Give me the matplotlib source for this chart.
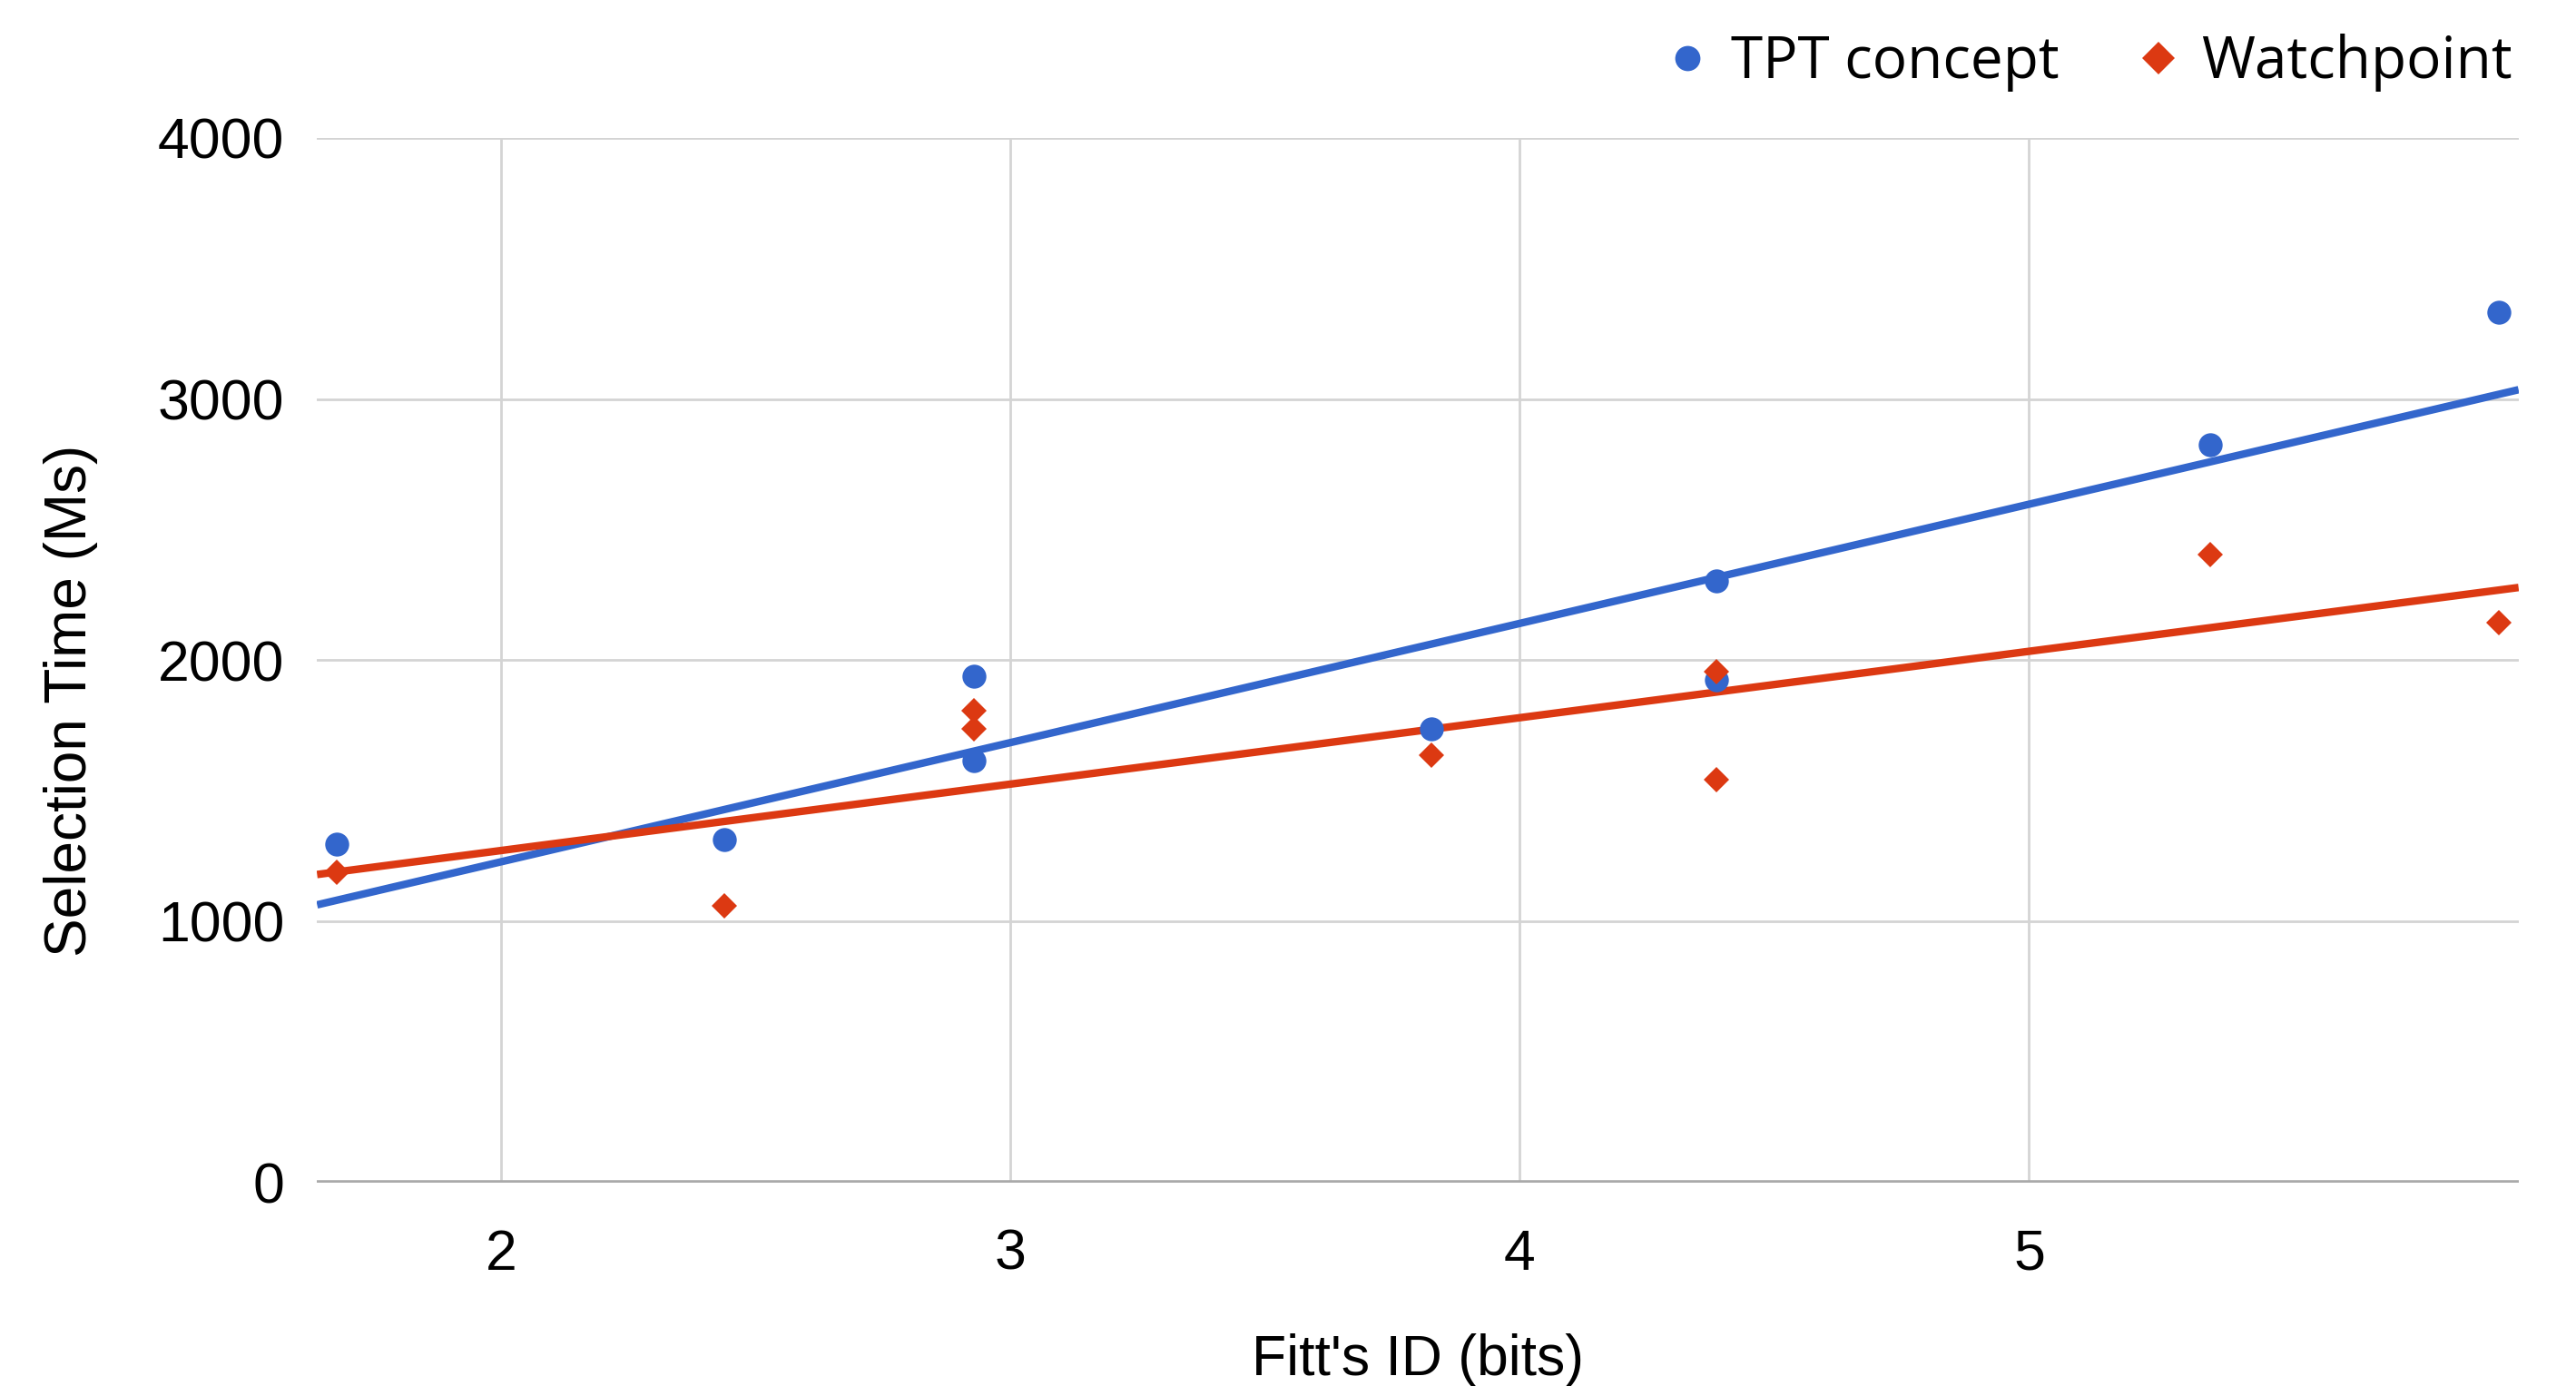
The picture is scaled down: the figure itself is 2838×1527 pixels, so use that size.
import matplotlib
matplotlib.use("Agg")
import matplotlib.pyplot as plt
import numpy as np

# values
tpt_x = [1.677, 2.439, 2.929, 2.929, 3.826, 4.387, 4.387, 5.355, 5.923]
tpt_y = [1296, 1314, 1937, 1616, 1736, 2302, 1925, 2824, 3333]
watch_x = [1.677, 2.439, 2.929, 2.929, 3.826, 4.387, 4.387, 5.355, 5.923]
watch_y = [1189, 1057, 1805, 1736, 1635, 1956, 1541, 2403, 2145]

series_names = ["TPT concept", "Watchpoint"]
x_ticks = [2, 3, 4, 5]
y_ticks = [0, 1000, 2000, 3000, 4000]

BLUE = "#3366cc"
RED = "#dc3912"

fig = plt.figure(figsize=(28.38, 15.27), dpi=100)
ax = fig.add_axes([0.1231, 0.147, 0.8546, 0.7535])

xmin, xmax = 1.639, 5.961
ax.set_xlim(xmin, xmax)
ax.set_ylim(0, 4000)

# trendlines (linear fit over the data)
xs = np.array([xmin, xmax])
b1 = np.polyfit(tpt_x, tpt_y, 1)
b2 = np.polyfit(watch_x, watch_y, 1)
ax.plot(xs, np.polyval(b1, xs), color=BLUE, lw=6, zorder=3, solid_capstyle="butt")
ax.plot(xs, np.polyval(b2, xs), color=RED, lw=6, zorder=3, solid_capstyle="butt")

ax.plot(tpt_x, tpt_y, "o", color=BLUE, ms=19, mew=0, zorder=4, label=series_names[0])
ax.plot(watch_x, watch_y, "D", color=RED, ms=14.5, mew=0, zorder=5, label=series_names[1])

# grid
ax.set_xticks(x_ticks)
ax.set_yticks(y_ticks)
ax.grid(True, color="#d4d4d4", lw=2)
ax.set_axisbelow(True)
ax.axhline(0, color="#aaaaaa", lw=4, zorder=2)
for s in ax.spines.values():
    s.set_visible(False)
ax.tick_params(length=0, labelsize=45, colors="black")
ax.tick_params(axis="x", pad=36)
ax.tick_params(axis="y", pad=26)
for t in ax.get_xticklabels() + ax.get_yticklabels():
    t.set_family("Liberation Sans")

ax.set_xlabel("Fitt's ID (bits)", fontsize=45, family="Liberation Sans", va="center")
ax.xaxis.set_label_coords(0.5, -0.17)
ax.set_ylabel("Selection Time (Ms)", fontsize=46, family="Liberation Sans", va="center")
ax.yaxis.set_label_coords(-0.112, 0.461)

leg = fig.legend(loc="upper right", bbox_to_anchor=(0.990, 1.003), ncol=2, frameon=False,
                 prop={"family": "Open Sans", "size": 46}, handletextpad=0.35,
                 handlelength=0.8, columnspacing=1.3, borderaxespad=0.25)
leg.legend_handles[0].set_markersize(20)
leg.legend_handles[1].set_markersize(18)

fig.savefig("out.png", dpi=100)
